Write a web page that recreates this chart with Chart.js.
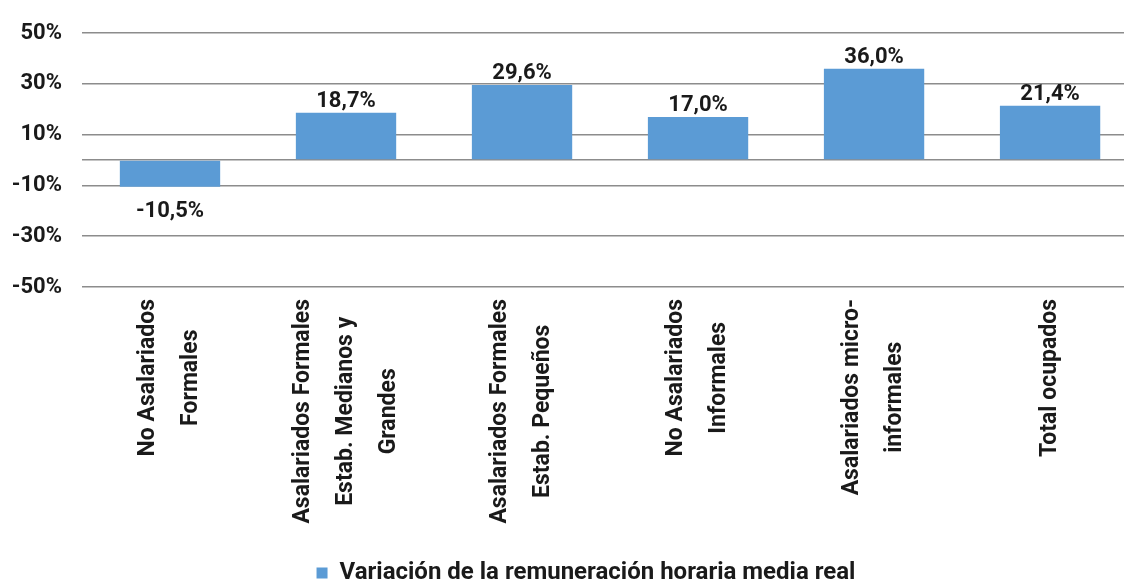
<!DOCTYPE html>
<html lang="es">
<head>
    <meta charset="UTF-8">
    <title>Variación de la remuneración horaria media real</title>
    <script src="https://cdn.jsdelivr.net/npm/chart.js"></script>
    <style>
        html, body { margin: 0; padding: 0; background: #fff; }
        #wrap { width: 1124px; height: 588px; }
    </style>
</head>
<body>
    <div id="wrap"><canvas id="grafico"></canvas></div>

    <script>
        const categorias = [
            ['No Asalariados', 'Formales'],
            ['Asalariados Formales', 'Estab. Medianos y', 'Grandes'],
            ['Asalariados Formales', 'Estab. Pequeños'],
            ['No Asalariados', 'Informales'],
            ['Asalariados micro-', 'informales'],
            ['Total ocupados']
        ];
        const variacion = [-10.5, 18.7, 29.6, 17.0, 36.0, 21.4];
        const ticksY = [-50, -30, -10, 0, 10, 30, 50];
        const nombreSerie = 'Variación de la remuneración horaria media real';

        const fuente = 'Roboto, "DejaVu Sans", sans-serif';
        const colorTexto = '#1a1a1a';
        const azul = '#5b9bd5';

        const formato = v => v.toFixed(1).replace('.', ',') + '%';

        // etiquetas del eje X: rotadas y centradas línea por línea
        const etiquetasX = {
            id: 'etiquetasX',
            afterDraw(chart) {
                const ctx = chart.ctx;
                const x = chart.scales.x;
                const top = chart.chartArea.bottom + 12;
                const alto = 43;
                ctx.save();
                ctx.font = 'bold 23px ' + fuente;
                ctx.fillStyle = colorTexto;
                ctx.textAlign = 'center';
                ctx.textBaseline = 'middle';
                categorias.forEach((lineas, i) => {
                    const cx = x.getPixelForValue(i);
                    const ancho = Math.max(...lineas.map(l => ctx.measureText(l).width));
                    const cy = top + ancho / 2;
                    ctx.save();
                    ctx.translate(cx, cy);
                    ctx.rotate(-Math.PI / 2);
                    lineas.forEach((l, k) => {
                        const off = (k - (lineas.length - 1) / 2) * alto;
                        ctx.fillText(l, 0, off);
                    });
                    ctx.restore();
                });
                ctx.restore();
            }
        };

        // valores sobre / bajo las barras
        const valores = {
            id: 'valores',
            afterDatasetsDraw(chart) {
                const ctx = chart.ctx;
                const meta = chart.getDatasetMeta(0);
                ctx.save();
                ctx.font = 'bold 22px ' + fuente;
                ctx.fillStyle = colorTexto;
                ctx.textAlign = 'center';
                ctx.textBaseline = 'alphabetic';
                meta.data.forEach((bar, i) => {
                    const v = variacion[i];
                    const y = v >= 0 ? bar.y - 6 : bar.y + 30;
                    ctx.fillText(formato(v), bar.x, y);
                });
                ctx.restore();
            }
        };

        // la leyenda va algo a la derecha y abajo, como en el original
        const moverLeyenda = {
            id: 'moverLeyenda',
            afterLayout(chart) {
                const l = chart.legend;
                l.left += 24; l.right += 24;
                l.top += 7; l.bottom += 7;
            }
        };

        new Chart(document.getElementById('grafico'), {
            type: 'bar',
            data: {
                datasets: [{
                    label: nombreSerie,
                    data: variacion.map((v, i) => ({ x: i, y: v })),
                    backgroundColor: azul,
                    borderWidth: 0,
                    barPercentage: 0.57,
                    categoryPercentage: 1
                }]
            },
            options: {
                responsive: true,
                maintainAspectRatio: false,
                animation: false,
                layout: { padding: { top: 20, right: 0, left: 0, bottom: 0 } },
                plugins: {
                    legend: {
                        position: 'bottom',
                        labels: {
                            boxWidth: 11,
                            boxHeight: 11,
                            padding: 0,
                            color: colorTexto,
                            font: { family: fuente, size: 24, weight: 'bold' }
                        }
                    },
                    tooltip: { enabled: false }
                },
                scales: {
                    x: {
                        type: 'linear',
                        offset: false,
                        min: -0.5,
                        max: 5.42,
                        afterBuildTicks: s => { s.ticks = categorias.map((c, i) => ({ value: i })); },
                        grid: { display: false },
                        border: { display: false },
                        ticks: { display: false },
                        afterFit: s => { s.height = 267; }
                    },
                    y: {
                        min: -50,
                        max: 50,
                        afterBuildTicks: s => { s.ticks = ticksY.map(v => ({ value: v })); },
                        afterFit: s => { s.width = 82; },
                        grid: { color: '#8c8c8c', lineWidth: 1.5, drawTicks: false },
                        border: { display: false },
                        ticks: {
                            padding: 20,
                            color: colorTexto,
                            font: { family: fuente, size: 22, weight: 'bold' },
                            callback: v => (v === 0 ? '' : v + '%')
                        }
                    }
                }
            },
            plugins: [etiquetasX, valores, moverLeyenda]
        });
    </script>
</body>
</html>
